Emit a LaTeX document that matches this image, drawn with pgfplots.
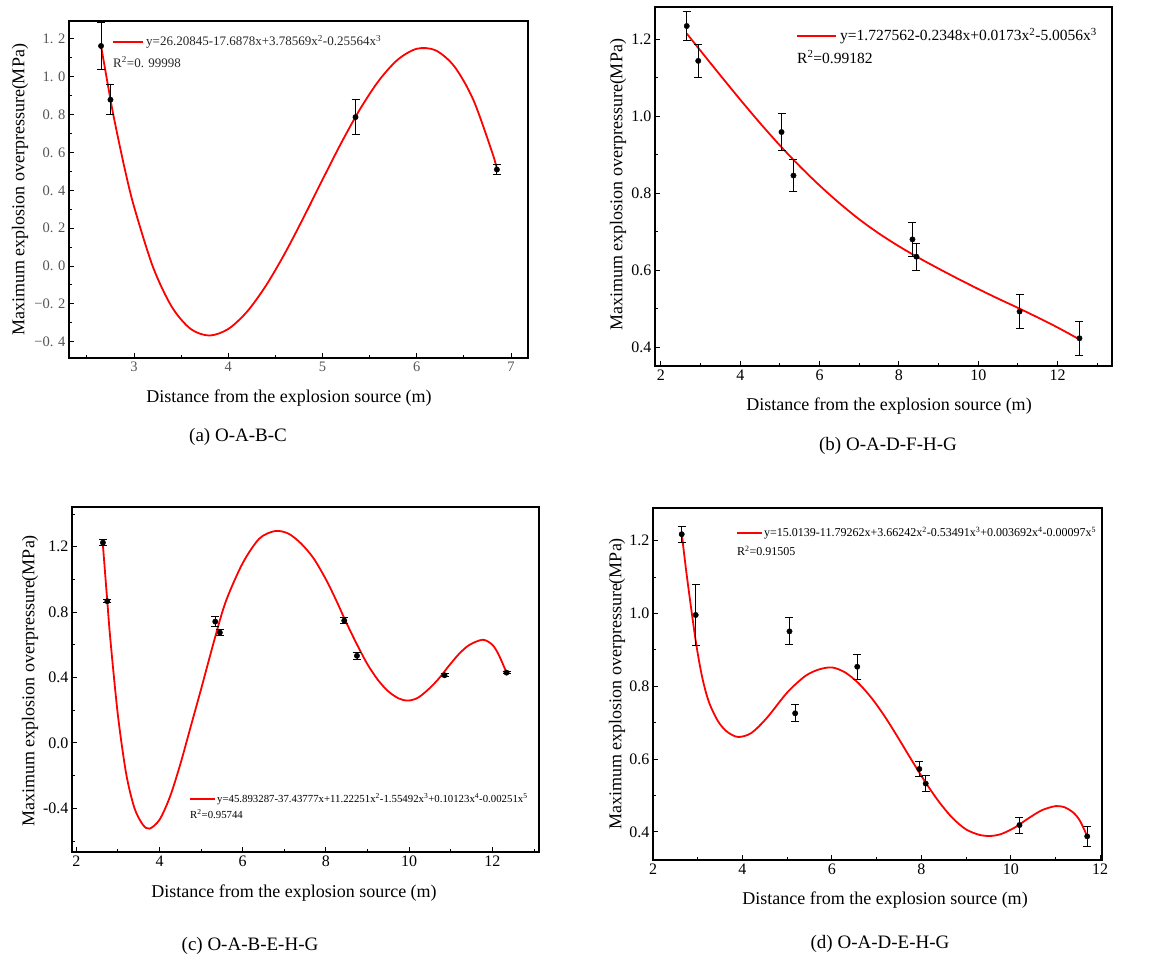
\documentclass[border=0pt]{standalone}
\usepackage{pgfplots}
\pgfplotsset{compat=1.18}
\usepackage{fontspec}
\setmainfont{Liberation Serif}
\definecolor{fitred}{RGB}{255,0,0}
\definecolor{tickgray}{RGB}{85,85,85}
\pgfplotsset{
  panel/.style={
    scale only axis, anchor=south west, clip=false,
    axis line style={line width=1.7pt},
    xtick pos=left, ytick pos=left,
    tick align=inside,
    major tick length=5pt, minor tick length=3pt,
    every tick/.style={black, line width=1pt},
    /pgf/number format/assume math mode=true,
    ticklabel style={font=\fontsize{16}{19}\selectfont},
  },
  pts/.style={only marks, mark=*, mark size=2.7pt, black,
    error bars/y dir=both, error bars/y explicit,
    error bars/error bar style={black, line width=0.9pt},
    error bars/error mark options={rotate=90, black, mark size=4pt, line width=0.9pt}},
  fit/.style={fitred, line width=1.8pt, smooth, no marks},
}
\begin{document}
\begin{tikzpicture}[x=1pt,y=1pt]
\path (0,0) rectangle (1156,961);

% ---------------- (a) ----------------
\begin{axis}[panel, at={(69pt,603pt)}, width=459pt, height=337pt,
  xmin=2.31, xmax=7.18, ymin=-0.486, ymax=1.295,
  xtick={3,4,5,6,7}, minor xtick={2.5,3.5,4.5,5.5,6.5},
  ytick={-0.4,-0.2,0,0.2,0.4,0.6,0.8,1.0,1.2},
  yticklabels={−0. 4,−0. 2,0. 0,0. 2,0. 4,0. 6,0. 8,1. 0,1. 2},
  minor ytick={-0.3,-0.1,0.1,0.3,0.5,0.7,0.9,1.1},
  ticklabel style={font=\fontsize{14.5}{17}\selectfont, text=tickgray}]
\addplot[fit] coordinates {
(2.65,1.16342) (2.75,0.87977) (2.8,0.7506) (2.9,0.51668) (3.0,0.31398) (3.2,-0.00386)
(3.4,-0.21517) (3.6,-0.33223) (3.8,-0.36731) (4.0,-0.33267) (4.2,-0.24059)
(4.4,-0.10333) (4.6,0.06679) (4.8,0.25759) (5.0,0.4567) (5.2,0.65191)
(5.4,0.83093) (5.6,0.98157) (5.8,1.09138) (6.0,1.14825) (6.2,1.13987)
(6.4,1.05389) (6.6,0.87818) (6.8,0.60033) (6.85,0.51348)};
\addplot[pts] table[x=x, y=y, y error=e] {
x y e
2.65 1.163 0.126
2.75 0.879 0.080
5.35 0.787 0.094
6.85 0.510 0.025
};
\end{axis}

% ---------------- (b) ----------------
\begin{axis}[panel, at={(655pt,595pt)}, width=457pt, height=359pt,
  xmin=1.85, xmax=13.37, ymin=0.351, ymax=1.284,
  xtick={2,4,6,8,10,12}, minor xtick={3,5,7,9,11,13},
  ytick={0.4,0.6,0.8,1.0,1.2}, yticklabels={0.4,0.6,0.8,1.0,1.2},
  minor ytick={0.5,0.7,0.9,1.1}]
\addplot[fit] coordinates {
(2.65,1.215) (3.0,1.170) (3.5,1.106) (4.0,1.043) (4.5,0.982) (5.0,0.924)
(5.5,0.870) (6.0,0.820) (6.5,0.774) (7.0,0.732) (7.5,0.695) (8.0,0.662)
(8.5,0.632) (9.0,0.604) (9.5,0.577) (10.0,0.551) (10.5,0.526) (11.0,0.502)
(11.5,0.477) (12.0,0.451) (12.55,0.420)};
\addplot[pts] table[x=x, y=y, y error=e] {
x y e
2.65 1.2345 0.037
2.94 1.144 0.042
5.04 0.959 0.048
5.34 0.846 0.042
8.34 0.680 0.044
8.44 0.635 0.035
11.04 0.4925 0.045
12.55 0.423 0.045
};
\end{axis}

% ---------------- (c) ----------------
\begin{axis}[panel, at={(72pt,109pt)}, width=467pt, height=345pt,
  xmin=1.897, xmax=13.12, ymin=-0.667, ymax=1.443,
  xtick={2,4,6,8,10,12}, minor xtick={3,5,7,9,11,13},
  ytick={-0.4,0,0.4,0.8,1.2}, yticklabels={-0.4,0.0,0.4,0.8,1.2},
  minor ytick={-0.6,-0.2,0.2,0.6,1.0,1.4}]
\addplot[fit] coordinates {
(2.64,1.21) (2.745,0.867) (2.82,0.63) (3.0,0.17) (3.2,-0.19) (3.4,-0.40)
(3.6,-0.50) (3.76,-0.524) (4.0,-0.47) (4.25,-0.33) (4.5,-0.13) (4.75,0.10)
(5.0,0.33) (5.34,0.65) (5.6,0.87) (6.0,1.10) (6.4,1.25) (6.78,1.296)
(7.1,1.28) (7.4,1.22) (7.7,1.13) (8.0,1.0) (8.25,0.87) (8.5,0.73)
(8.75,0.60) (9.0,0.48) (9.25,0.385) (9.5,0.315) (9.75,0.272) (9.97,0.259)
(10.2,0.275) (10.45,0.325) (10.7,0.39) (10.95,0.47) (11.2,0.545) (11.45,0.60)
(11.77,0.631) (12.0,0.60) (12.15,0.54) (12.34,0.43)};
\addplot[pts] table[x=x, y=y, y error=e] {
x y e
2.64 1.225 0.018
2.745 0.867 0.008
5.34 0.742 0.030
5.45 0.675 0.020
8.44 0.748 0.020
8.745 0.533 0.022
10.85 0.414 0.010
12.34 0.430 0.008
};
\end{axis}

% ---------------- (d) ----------------
\begin{axis}[panel, at={(653pt,101pt)}, width=449pt, height=352pt,
  xmin=2, xmax=12.04, ymin=0.323, ymax=1.29,
  xtick={2,4,6,8,10,12}, minor xtick={3,5,7,9,11},
  ytick={0.4,0.6,0.8,1.0,1.2}, yticklabels={0.4,0.6,0.8,1.0,1.2},
  minor ytick={0.5,0.7,0.9,1.1}]
\addplot[fit] coordinates {
(2.642,1.220) (2.76,1.100) (2.955,0.925) (3.1,0.825) (3.25,0.757)
(3.45,0.705) (3.65,0.676) (3.9,0.661) (4.2,0.672) (4.55,0.714)
(5.0,0.783) (5.4,0.828) (5.7,0.846) (6.0,0.852) (6.3,0.838) (6.6,0.808)
(6.9,0.766) (7.2,0.714) (7.5,0.655) (7.8,0.594) (8.1,0.535) (8.4,0.482)
(8.7,0.438) (9.0,0.407) (9.3,0.392) (9.55,0.389) (9.8,0.395) (10.1,0.413)
(10.4,0.438) (10.7,0.460) (11.0,0.471) (11.2,0.468) (11.4,0.453)
(11.55,0.430) (11.709,0.388)};
\addplot[pts] table[x=x, y=y, y error=e] {
x y e
2.642 1.218 0.022
2.955 0.996 0.083
5.052 0.951 0.037
5.179 0.726 0.023
6.567 0.854 0.035
7.955 0.573 0.021
8.097 0.533 0.023
10.194 0.419 0.022
11.709 0.388 0.028
};
\end{axis}

% ---------------- legends ----------------
\draw[fitred, line width=1.8pt] (113,919) -- (143,919);
\node[anchor=west, inner sep=0pt, font=\fontsize{13}{15}\selectfont, text=black!85] at (146,919)
  {y=26.20845-17.6878x+3.78569x\textsuperscript{2}-0.25564x\textsuperscript{3}};
\node[anchor=west, inner sep=0pt, font=\fontsize{13}{15}\selectfont, text=black!85] at (113,899)
  {R\textsuperscript{2}=0. 99998};

\draw[fitred, line width=1.8pt] (797,925) -- (836,925);
\node[anchor=west, inner sep=0pt, font=\fontsize{15.5}{18}\selectfont] at (840,925)
  {y=1.727562-0.2348x+0.0173x\textsuperscript{2}-5.0056x\textsuperscript{3}};
\node[anchor=west, inner sep=0pt, font=\fontsize{15.5}{18}\selectfont] at (797,904)
  {R\textsuperscript{2}=0.99182};

\draw[fitred, line width=1.8pt] (190,162) -- (215,162);
\node[anchor=west, inner sep=0pt, font=\fontsize{10.8}{13}\selectfont] at (217,162)
  {y=45.893287-37.43777x+11.22251x\textsuperscript{2}-1.55492x\textsuperscript{3}+0.10123x\textsuperscript{4}-0.00251x\textsuperscript{5}};
\node[anchor=west, inner sep=0pt, font=\fontsize{10.8}{13}\selectfont] at (190,147)
  {R\textsuperscript{2}=0.95744};

\draw[fitred, line width=1.8pt] (737,428) -- (762,428);
\node[anchor=west, inner sep=0pt, font=\fontsize{12}{14}\selectfont] at (764,428)
  {y=15.0139-11.79262x+3.66242x\textsuperscript{2}-0.53491x\textsuperscript{3}+0.003692x\textsuperscript{4}-0.00097x\textsuperscript{5}};
\node[anchor=west, inner sep=0pt, font=\fontsize{12}{14}\selectfont] at (737,410)
  {R\textsuperscript{2}=0.91505};

% ---------------- axis labels ----------------
\def\ylab{Maximum explosion overpressure(MPa)}
\def\xlab{Distance from the explosion source (m)}
\node[rotate=90, font=\fontsize{18}{21}\selectfont] at (20,771) {\ylab};
\node[rotate=90, font=\fontsize{18}{21}\selectfont] at (618,776) {\ylab};
\node[rotate=90, font=\fontsize{18}{21}\selectfont] at (30,280) {\ylab};
\node[rotate=90, font=\fontsize{18}{21}\selectfont] at (617,277) {\ylab};
\node[font=\fontsize{18}{21}\selectfont] at (289,563) {\xlab};
\node[font=\fontsize{18}{21}\selectfont] at (889,555) {\xlab};
\node[font=\fontsize{18}{21}\selectfont] at (294,68) {\xlab};
\node[font=\fontsize{18}{21}\selectfont] at (885,61) {\xlab};

% ---------------- captions ----------------
\node[font=\fontsize{19}{22}\selectfont] at (238,524) {(a) O-A-B-C};
\node[font=\fontsize{19}{22}\selectfont] at (888,515) {(b) O-A-D-F-H-G};
\node[font=\fontsize{19}{22}\selectfont] at (250,15) {(c) O-A-B-E-H-G};
\node[font=\fontsize{19}{22}\selectfont] at (880,17) {(d) O-A-D-E-H-G};
\end{tikzpicture}
\end{document}
